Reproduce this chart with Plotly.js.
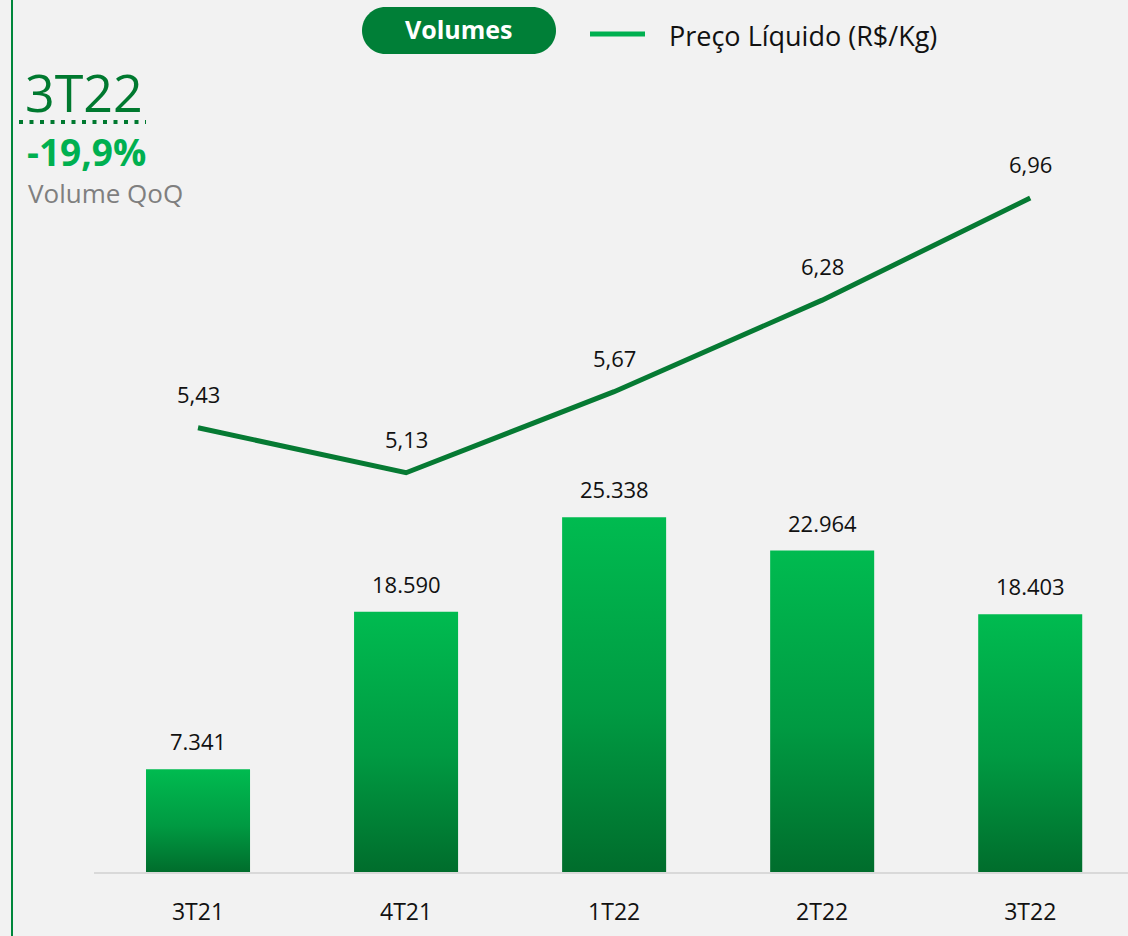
<!DOCTYPE html>
<html>
<head>
<meta charset="utf-8">
<script src="https://cdn.plot.ly/plotly-3.0.1.min.js"></script>
<style>html,body{margin:0;padding:0;background:#f2f2f2;}#chart{width:1128px;height:936px;}</style>
</head>
<body>
<div id="chart"></div>
<script>
const categories = ["3T21", "4T21", "1T22", "2T22", "3T22"];
const volumes = [7341, 18590, 25338, 22964, 18403];
const prices = [5.43, 5.13, 5.67, 6.28, 6.96];

function fmtInt(v) { return String(v).replace(/\B(?=(\d{3})+(?!\d))/g, "."); }
function fmtDec(v) { return v.toFixed(2).replace(".", ","); }

// plot area in pixels: x 94..1128, y 60..872
const PL = 94, PW = 1034, PT = 60, PH = 812;
const px = X => (X - PL) / PW;
const py = Y => (PT + PH - Y) / PH;

const FONT = "Open Sans, Noto Sans, sans-serif";

const traces = [
  {
    type: "bar", x: categories, y: volumes, yaxis: "y",
    marker: { color: "#00a444", line: { width: 0 } },
    hoverinfo: "none"
  },
  {
    type: "scatter", mode: "lines", x: categories, y: prices, yaxis: "y2",
    line: { color: "#067a33", width: 5 },
    hoverinfo: "none"
  }
];

const annotations = [];
categories.forEach((c, i) => {
  annotations.push({ x: c, y: volumes[i], xref: "x", yref: "y", text: fmtInt(volumes[i]),
    showarrow: false, yanchor: "bottom", yshift: 11, font: { family: FONT, size: 22, color: "#111" } });
  annotations.push({ x: c, y: prices[i], xref: "x", yref: "y2", text: fmtDec(prices[i]),
    showarrow: false, yanchor: "bottom", yshift: 17, font: { family: FONT, size: 22, color: "#111" } });
});

// side panel texts
annotations.push({ xref: "paper", yref: "paper", x: px(24), y: py(92), xanchor: "left", yanchor: "middle",
  text: "3T22", showarrow: false, borderpad: 0, font: { family: FONT, size: 52, color: "#00792f" } });
annotations.push({ xref: "paper", yref: "paper", x: px(26), y: py(152), xanchor: "left", yanchor: "middle",
  text: "<b>-19,9%</b>", showarrow: false, borderpad: 0, font: { family: FONT, size: 37, color: "#00b050" } });
annotations.push({ xref: "paper", yref: "paper", x: px(27), y: py(193), xanchor: "left", yanchor: "middle",
  text: "Volume QoQ", showarrow: false, borderpad: 0, font: { family: FONT, size: 26, color: "#7f7f7f" } });

// legend texts
annotations.push({ xref: "paper", yref: "paper", x: px(459), y: py(29), xanchor: "center", yanchor: "middle",
  text: "<b>Volumes</b>", showarrow: false, font: { family: FONT, size: 25, color: "#ffffff" } });
annotations.push({ xref: "paper", yref: "paper", x: px(667), y: py(35), xanchor: "left", yanchor: "middle",
  text: "Preço Líquido (R$/Kg)", showarrow: false, font: { family: FONT, size: 27, color: "#111" } });

// pill path
function pill(X0, Y0, X1, Y1) {
  const k = 0.5523;
  const r = (Y1 - Y0) / 2;
  const ym = (Y0 + Y1) / 2;
  const p = (X, Y) => px(X) + "," + py(Y);
  return "M" + p(X0 + r, Y0) + " L" + p(X1 - r, Y0) +
    " C" + p(X1 - r + k * r, Y0) + " " + p(X1, ym - k * r) + " " + p(X1, ym) +
    " C" + p(X1, ym + k * r) + " " + p(X1 - r + k * r, Y1) + " " + p(X1 - r, Y1) +
    " L" + p(X0 + r, Y1) +
    " C" + p(X0 + r - k * r, Y1) + " " + p(X0, ym + k * r) + " " + p(X0, ym) +
    " C" + p(X0, ym - k * r) + " " + p(X0 + r - k * r, Y0) + " " + p(X0 + r, Y0) + " Z";
}

const shapes = [
  { type: "line", xref: "paper", yref: "paper", x0: px(12), x1: px(12), y0: py(0), y1: py(936),
    line: { color: "#00873c", width: 2 } },
  { type: "line", xref: "paper", yref: "paper", x0: px(19), x1: px(146), y0: py(122), y1: py(122),
    line: { color: "#00792f", width: 4, dash: "4px,6.5px" } },
  { type: "path", xref: "paper", yref: "paper", path: pill(362, 7, 556, 54),
    fillcolor: "#007f37", line: { width: 0 } },
  { type: "line", xref: "paper", yref: "paper", x0: px(590), x1: px(645), y0: py(34), y1: py(34),
    line: { color: "#00b050", width: 5 } }
];

const layout = {
  width: 1128, height: 936,
  margin: { l: PL, r: 0, t: PT, b: 936 - PT - PH, pad: 0 },
  paper_bgcolor: "#f2f2f2", plot_bgcolor: "#f2f2f2",
  showlegend: false,
  bargap: 0.5,
  separators: ",.",
  xaxis: {
    type: "category", range: [-0.5, 4.47], showgrid: false, zeroline: false,
    showline: true, linecolor: "#d9d9d9", linewidth: 2, ticks: "",
    ticklabelstandoff: 18,
    tickfont: { family: FONT, size: 23, color: "#111" }
  },
  yaxis: { range: [0, 58000], visible: false, fixedrange: true },
  yaxis2: { range: [2.47, 7.88], overlaying: "y", visible: false, fixedrange: true },
  annotations: annotations,
  shapes: shapes
};

Plotly.newPlot("chart", traces, layout, { staticPlot: true, displayModeBar: false }).then(function (gd) {
  const svg = gd.querySelector("svg.main-svg");
  const defs = svg.querySelector("defs");
  const ns = "http://www.w3.org/2000/svg";
  const grad = document.createElementNS(ns, "linearGradient");
  grad.setAttribute("id", "barGrad");
  grad.setAttribute("x1", "0"); grad.setAttribute("y1", "0");
  grad.setAttribute("x2", "0"); grad.setAttribute("y2", "1");
  [["0", "#00bb50"], ["0.55", "#009a42"], ["1", "#006d2c"]].forEach(function (s) {
    const st = document.createElementNS(ns, "stop");
    st.setAttribute("offset", s[0]);
    st.setAttribute("stop-color", s[1]);
    grad.appendChild(st);
  });
  defs.appendChild(grad);
  gd.querySelectorAll(".barlayer .point path").forEach(function (p) {
    p.style.fill = "url(#barGrad)";
  });
});
</script>
</body>
</html>
